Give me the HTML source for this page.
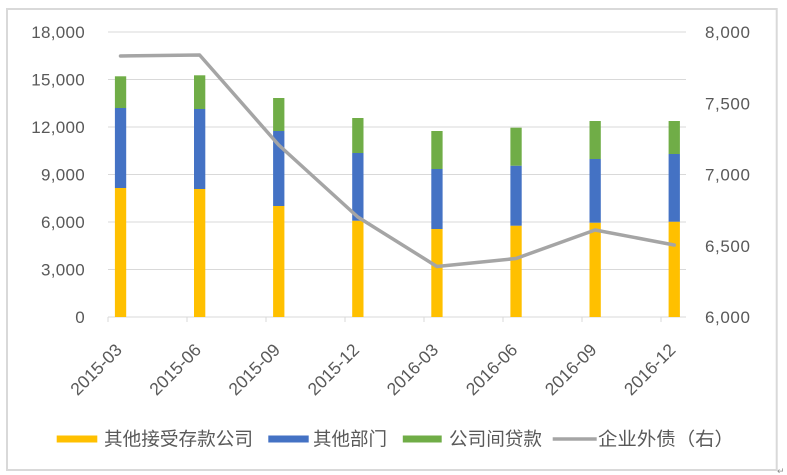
<!DOCTYPE html>
<html><head><meta charset="utf-8"><style>
html,body{margin:0;padding:0;background:#fff;}
svg{display:block;}
</style></head><body>
<svg width="787" height="475" viewBox="0 0 787 475" xmlns="http://www.w3.org/2000/svg">
<rect x="0" y="0" width="787" height="475" fill="#fff"/>
<rect x="7" y="9" width="769.7" height="461" fill="none" stroke="#D9D9D9" stroke-width="2"/>
<g stroke="#D9D9D9" stroke-width="1">
<line x1="108" y1="32" x2="686" y2="32"/>
<line x1="108" y1="79.5" x2="686" y2="79.5"/>
<line x1="108" y1="127" x2="686" y2="127"/>
<line x1="108" y1="174.5" x2="686" y2="174.5"/>
<line x1="108" y1="222" x2="686" y2="222"/>
<line x1="108" y1="269.5" x2="686" y2="269.5"/>
<line x1="108" y1="317" x2="686" y2="317"/>
<line x1="108" y1="317" x2="108" y2="322"/>
<line x1="187" y1="317" x2="187" y2="322"/>
<line x1="266" y1="317" x2="266" y2="322"/>
<line x1="345" y1="317" x2="345" y2="322"/>
<line x1="424" y1="317" x2="424" y2="322"/>
<line x1="503" y1="317" x2="503" y2="322"/>
<line x1="582" y1="317" x2="582" y2="322"/>
<line x1="661" y1="317" x2="661" y2="322"/>
</g>
<g font-family="Liberation Sans, sans-serif" font-size="17" fill="#595959" text-anchor="end" letter-spacing="0.3">
<text x="85" y="38">18,000</text>
<text x="85" y="85.5">15,000</text>
<text x="85" y="133">12,000</text>
<text x="85" y="180.5">9,000</text>
<text x="85" y="228">6,000</text>
<text x="85" y="275.5">3,000</text>
<text x="85" y="323">0</text>
</g>
<g font-family="Liberation Sans, sans-serif" font-size="17" fill="#595959" letter-spacing="0.6">
<text x="705" y="38">8,000</text>
<text x="705" y="109.3">7,500</text>
<text x="705" y="180.5">7,000</text>
<text x="705" y="251.8">6,500</text>
<text x="705" y="323">6,000</text>
</g>
<g>
<rect x="114.9" y="188" width="11.3" height="129" fill="#FFC000"/>
<rect x="114.9" y="108" width="11.3" height="80" fill="#4472C4"/>
<rect x="114.9" y="76.3" width="11.3" height="31.7" fill="#70AD47"/>

<rect x="194" y="189" width="11.3" height="128" fill="#FFC000"/>
<rect x="194" y="109" width="11.3" height="80" fill="#4472C4"/>
<rect x="194" y="75.3" width="11.3" height="33.7" fill="#70AD47"/>

<rect x="273.1" y="206" width="11.3" height="111" fill="#FFC000"/>
<rect x="273.1" y="131" width="11.3" height="75" fill="#4472C4"/>
<rect x="273.1" y="98" width="11.3" height="33" fill="#70AD47"/>

<rect x="352.2" y="220.7" width="11.3" height="96.3" fill="#FFC000"/>
<rect x="352.2" y="153" width="11.3" height="67.7" fill="#4472C4"/>
<rect x="352.2" y="118" width="11.3" height="35" fill="#70AD47"/>

<rect x="431.3" y="229" width="11.3" height="88" fill="#FFC000"/>
<rect x="431.3" y="169" width="11.3" height="60" fill="#4472C4"/>
<rect x="431.3" y="131" width="11.3" height="38" fill="#70AD47"/>

<rect x="510.4" y="225.7" width="11.3" height="91.3" fill="#FFC000"/>
<rect x="510.4" y="165.7" width="11.3" height="60" fill="#4472C4"/>
<rect x="510.4" y="127.7" width="11.3" height="38" fill="#70AD47"/>

<rect x="589.5" y="222.7" width="11.3" height="94.3" fill="#FFC000"/>
<rect x="589.5" y="159" width="11.3" height="63.7" fill="#4472C4"/>
<rect x="589.5" y="121" width="11.3" height="38" fill="#70AD47"/>

<rect x="668.6" y="221.7" width="11.3" height="95.3" fill="#FFC000"/>
<rect x="668.6" y="154" width="11.3" height="67.7" fill="#4472C4"/>
<rect x="668.6" y="121" width="11.3" height="33" fill="#70AD47"/>
</g>
<polyline points="120.5,56 199.6,55 278.7,145 357.8,217 436.9,266.5 516,258.5 595.1,230 674.2,245" fill="none" stroke="#A5A5A5" stroke-width="3.5" stroke-linejoin="round" stroke-linecap="round"/>
<g font-family="Liberation Sans, sans-serif" font-size="17.5" fill="#595959" text-anchor="end">
<text transform="translate(123,351) rotate(-45)">2015-03</text>
<text transform="translate(202.1,351) rotate(-45)">2015-06</text>
<text transform="translate(281.2,351) rotate(-45)">2015-09</text>
<text transform="translate(360.3,351) rotate(-45)">2015-12</text>
<text transform="translate(439.4,351) rotate(-45)">2016-03</text>
<text transform="translate(518.5,351) rotate(-45)">2016-06</text>
<text transform="translate(597.6,351) rotate(-45)">2016-09</text>
<text transform="translate(676.7,351) rotate(-45)">2016-12</text>
</g>
<rect x="56.7" y="435.5" width="40.6" height="7" fill="#FFC000"/>
<rect x="268.3" y="435.5" width="40.4" height="7" fill="#4472C4"/>
<rect x="402.8" y="435.5" width="38.9" height="7" fill="#70AD47"/>
<line x1="552.7" y1="439" x2="596.7" y2="439" stroke="#A5A5A5" stroke-width="3.5"/>
<g font-family="Liberation Sans, 'Noto Sans CJK SC', sans-serif" font-size="18.5" fill="#595959">
<text x="104" y="445.5" textLength="149" lengthAdjust="spacingAndGlyphs">其他接受存款公司</text>
<text x="313" y="445.5" textLength="74" lengthAdjust="spacingAndGlyphs">其他部门</text>
<text x="449" y="445.5" textLength="93" lengthAdjust="spacingAndGlyphs">公司间贷款</text>
<text x="598" y="445.5" textLength="136" lengthAdjust="spacingAndGlyphs">企业外债（右）</text>
</g>
<text x="777" y="474" font-family="DejaVu Sans, sans-serif" font-size="9" fill="#8c8c8c">↵</text>
</svg>
</body></html>
